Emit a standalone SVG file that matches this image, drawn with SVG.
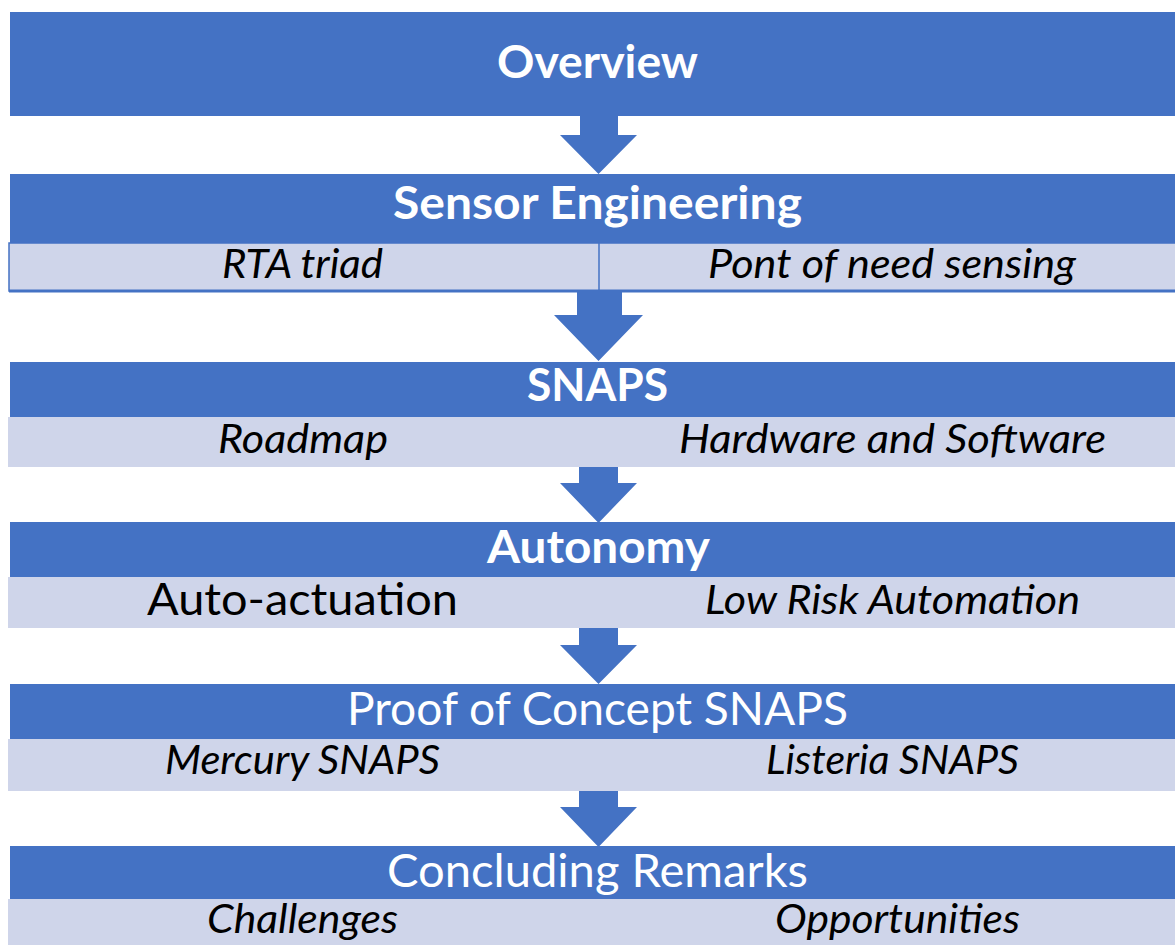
<svg xmlns="http://www.w3.org/2000/svg" width="1175" height="945" viewBox="0 0 1175 945">
  <style>
    .hdr { fill: #4472C4; }
    .sub { fill: #CFD5EA; }
    .arrow { fill: #4472C4; }
    .t { font-family: Lato, "Liberation Sans", sans-serif; text-anchor: middle; }
    .tb { font-weight: bold; fill: #FFFFFF; font-size: 46px; }
    .tw { fill: #FFFFFF; font-size: 46px; }
    .ti { font-style: italic; fill: #000000; font-size: 41px; }
    .tr { fill: #000000; font-size: 45px; }
  </style>
  <rect width="1175" height="945" fill="#FFFFFF"/>

  <!-- connectors: block arrows between stages -->
  <g id="connectors">
    <polygon class="arrow" points="580,116 618,116 618,135 637,135 598.5,174 560,135 580,135"/>
    <polygon class="arrow" points="577,292 622,292 622,315 643,315 598.5,361 554,315 577,315"/>
    <polygon class="arrow" points="579,467 618,467 618,483 637,483 598.5,523 560,483 579,483"/>
    <polygon class="arrow" points="579,628 618,628 618,645 637,645 598.5,684 560,645 579,645"/>
    <polygon class="arrow" points="579,791 618,791 618,807 637,807 598.5,847 560,807 579,807"/>
  </g>

  <g id="overview">
    <rect class="hdr" x="10" y="12" width="1175" height="104"/>
    <text class="t tb" x="597.5" y="78" textLength="201" lengthAdjust="spacingAndGlyphs">Overview</text>
  </g>

  <g id="sensor-engineering">
    <rect class="hdr" x="10" y="174" width="1175" height="69"/>
    <rect class="sub" x="9" y="243" width="1176" height="48" stroke="#4472C4" stroke-width="1.5"/>
    <line x1="599" y1="243" x2="599" y2="291" stroke="#4472C4" stroke-width="1.5"/>
    <line x1="9" y1="291" x2="1175" y2="291" stroke="#4472C4" stroke-width="3"/>
    <text class="t tb" x="597.5" y="219" textLength="409" lengthAdjust="spacingAndGlyphs">Sensor Engineering</text>
    <text class="t ti" x="302.5" y="278" textLength="161" lengthAdjust="spacingAndGlyphs">RTA triad</text>
    <text class="t ti" x="892" y="278" textLength="368" lengthAdjust="spacingAndGlyphs">Pont of need sensing</text>
  </g>

  <g id="snaps">
    <rect class="hdr" x="10" y="362" width="1175" height="55"/>
    <rect class="sub" x="8" y="417" width="1177" height="50"/>
    <text class="t tb" x="597.5" y="401" textLength="141" lengthAdjust="spacingAndGlyphs">SNAPS</text>
    <text class="t ti" x="303" y="453" textLength="170" lengthAdjust="spacingAndGlyphs">Roadmap</text>
    <text class="t ti" x="892.5" y="453" textLength="427" lengthAdjust="spacingAndGlyphs">Hardware and Software</text>
  </g>

  <g id="autonomy">
    <rect class="hdr" x="10" y="522" width="1175" height="55"/>
    <rect class="sub" x="8" y="577" width="1177" height="51"/>
    <text class="t tb" x="598.5" y="563" textLength="223" lengthAdjust="spacingAndGlyphs">Autonomy</text>
    <text class="t tr" x="302.5" y="615" textLength="311" lengthAdjust="spacingAndGlyphs">Auto-actuation</text>
    <text class="t ti" x="892.5" y="614" textLength="375" lengthAdjust="spacingAndGlyphs">Low Risk Automation</text>
  </g>

  <g id="proof-of-concept">
    <rect class="hdr" x="10" y="684" width="1175" height="55"/>
    <rect class="sub" x="8" y="739" width="1177" height="52"/>
    <text class="t tw" x="597.5" y="725" textLength="501" lengthAdjust="spacingAndGlyphs">Proof of Concept SNAPS</text>
    <text class="t ti" x="302.5" y="774" textLength="275" lengthAdjust="spacingAndGlyphs">Mercury SNAPS</text>
    <text class="t ti" x="892.5" y="774" textLength="253" lengthAdjust="spacingAndGlyphs">Listeria SNAPS</text>
  </g>

  <g id="concluding-remarks">
    <rect class="hdr" x="10" y="846" width="1175" height="53"/>
    <rect class="sub" x="8" y="899" width="1177" height="46"/>
    <text class="t tw" x="597.5" y="887" textLength="421" lengthAdjust="spacingAndGlyphs">Concluding Remarks</text>
    <text class="t ti" x="302.5" y="933" textLength="191" lengthAdjust="spacingAndGlyphs">Challenges</text>
    <text class="t ti" x="897.5" y="933" textLength="245" lengthAdjust="spacingAndGlyphs">Opportunities</text>
  </g>
</svg>
